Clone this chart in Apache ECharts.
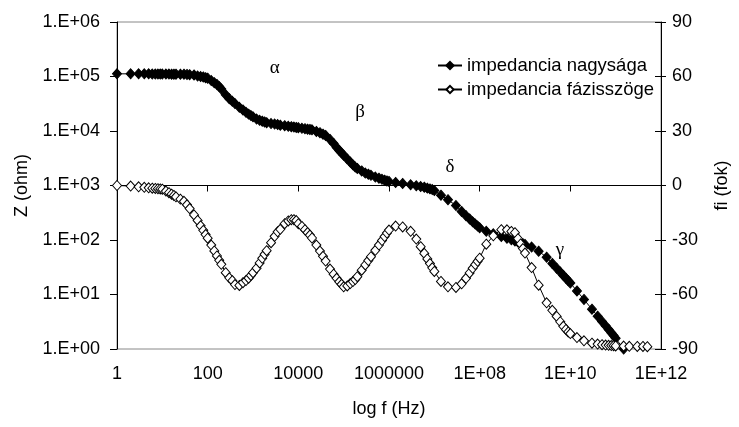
<!DOCTYPE html>
<html>
<head>
<meta charset="utf-8">
<script src="https://cdn.jsdelivr.net/npm/echarts@6/dist/echarts.min.js"></script>
<style>
  html, body { margin: 0; padding: 0; background: #fff; }
  #chart { width: 739px; height: 427px; }
</style>
</head>
<body>
<div id="chart"></div>
<script>
// frekvencia (Hz)
var freq = [
  1, 2, 3, 4, 5, 6, 7, 8, 9,
  10, 12, 14, 16, 18, 20, 25, 30, 35, 40, 50, 60, 70, 80, 90,
  100, 120, 140, 160, 180, 200, 250, 300, 350, 400, 500, 600, 700, 800, 900,
  1e3, 1.2e3, 1.4e3, 1.6e3, 1.8e3, 2e3, 2.5e3, 3e3, 3.5e3, 4e3, 5e3, 6e3, 7e3, 8e3, 9e3,
  1e4, 1.2e4, 1.4e4, 1.6e4, 1.8e4, 2e4, 2.5e4, 3e4, 3.5e4, 4e4, 5e4, 6e4, 7e4, 8e4, 9e4,
  1e5, 1.2e5, 1.4e5, 1.6e5, 1.8e5, 2e5, 2.5e5, 3e5, 3.5e5, 4e5, 5e5, 6e5, 7e5, 8e5, 9e5,
  1e6, 1.4e6, 2e6, 3e6, 4e6, 5e6, 6e6, 7e6, 8e6, 9e6,
  1e7, 1.4e7, 2e7, 3e7, 4e7, 5e7, 6e7, 7e7, 8e7, 9e7,
  1e8, 1.4e8, 2e8, 3e8, 4e8, 5e8, 6e8, 7e8, 8e8, 9e8,
  1e9, 1.4e9, 2e9, 3e9, 4e9, 5e9, 6e9, 7e9, 8e9, 9e9,
  1e10, 1.4e10, 2e10, 3e10, 4e10, 5e10, 6e10, 7e10, 8e10, 9e10,
  1e11, 1.5e11, 2e11, 3e11, 4e11, 5e11
];
// impedancia nagysága (ohm)
var zOhm = [
  112000, 112000, 112000, 112000, 112000, 111000, 111000, 111000, 111000,
  111000, 111000, 111000, 110000, 110000, 110000, 110000, 110000, 109000, 108000, 107000, 102000, 100000, 98000, 95000,
  93000, 84100, 77100, 71600, 65200, 58900, 46100, 39200, 35000, 31800, 27200, 24300, 22000, 20400, 19200,
  18200, 16600, 15700, 15100, 14700, 14200, 13700, 13400, 13100, 12800, 12500, 12200, 12000, 11800, 11600,
  11500, 11200, 11000, 10800, 10700, 10500, 9800, 9300, 8750, 8300, 7000, 5900, 5000, 4400, 3950,
  3590, 3070, 2690, 2390, 2180, 2060, 1850, 1690, 1610, 1540, 1430, 1360, 1300, 1250, 1210,
  1190, 1140, 1090, 1030, 989, 957, 929, 895, 867, 843,
  809, 664, 549, 428, 334, 280, 243, 216, 196, 180,
  167, 144, 130, 116, 108, 101, 96, 92, 88.7, 85.6,
  82.7, 74.3, 62.2, 48.3, 37.2, 30.4, 25.8, 22.4, 19.9, 17.9,
  16.2, 11.6, 8.1, 5.37, 4.01, 3.2, 2.66, 2.28, 1.99, 1.76,
  1.57, 1.0, null, null, null, null
];
// impedancia fázisszöge (fok)
var phase = [
  0, -0.3, -0.7, -1.0, -1.25, -1.45, -1.6, -1.75, -1.9,
  -2, -3.05, -3.95, -4.8, -5.5, -6.2, -7.5, -8.7, -10.6, -12.7, -16.2, -19.2, -22.2, -24.7, -27,
  -29, -32.8, -36, -38.8, -41.2, -43.4, -48, -50.8, -52.4, -54.5, -55, -53.5, -52.3, -51, -49.5,
  -48, -45.5, -42.6, -40.1, -37.9, -35.9, -31.5, -28, -25.5, -24.1, -21, -19.5, -18.8, -18.8, -19.3,
  -21, -22.5, -24.3, -25.9, -27.3, -28.9, -32.8, -36.1, -39, -41.6, -46, -48.8, -51.1, -53, -54.4,
  -55.8, -55.3, -54, -52.9, -51.8, -50.2, -46.6, -43.7, -41.3, -39.2, -35.7, -32.8, -30.3, -28.1, -26.2,
  -24.5, -22.3, -22.8, -25.2, -29.5, -33.7, -37.4, -40.4, -43, -45.3,
  -47.3, -52.8, -55.8, -56.1, -54.1, -51.1, -48.1, -45.6, -43.5, -41.7,
  -40, -32.3, -27.7, -24.3, -24.4, -25.3, -26, -29.3, -32.2, -34.7,
  -37.2, -45.2, -54.9, -64.6, -68.7, -72.1, -75, -77.5, -79.2, -80.6,
  -81.5, -83.7, -85.5, -86.8, -87.3, -87.6, -87.8, -88, -88.1, -88.2,
  -88.3, -88.4, -88.5, -88.6, -88.6, -88.7
];
var seriesNames = ['impedancia nagysága', 'impedancia fázisszöge'];
// görög betűk: [betű, f, Z]
var greek = [
  ['α', 3000, 144000],
  ['β', 230000, 22000],
  ['δ', 2.2e7, 2200],
  ['γ', 5.9e9, 66]
];

var font = 'Liberation Sans, Arial, sans-serif';
var myChart = echarts.init(document.getElementById('chart'));

function pairs(ys) {
  var out = [];
  for (var i = 0; i < freq.length; i++) {
    out.push([freq[i], ys[i]]);
  }
  return out;
}

var option = {
  animation: false,
  backgroundColor: '#fff',
  grid: {
    left: 117, right: 67, top: 22, bottom: 78,
    show: true, borderColor: '#888', borderWidth: 1
  },
  legend: {
    orient: 'vertical',
    left: 432, top: 51,
    itemWidth: 24, itemHeight: 9, itemGap: 5,
    data: seriesNames,
    textStyle: { fontFamily: font, fontSize: 18.5, color: '#000', lineHeight: 18 }
  },
  xAxis: {
    type: 'log', logBase: 100, min: 1, max: 1e12, splitNumber: 6,
    name: 'log f (Hz)', nameLocation: 'middle', nameGap: 51,
    nameTextStyle: { fontFamily: font, fontSize: 18, color: '#000' },
    axisLine: { lineStyle: { color: '#000', width: 1 } },
    axisTick: { length: 6, lineStyle: { color: '#000' } },
    splitLine: { show: false },
    axisLabel: {
      fontFamily: font, fontSize: 18, color: '#000', margin: 16,
      formatter: function (v) {
        var e = Math.round(Math.log10(v));
        if (e <= 6) return String(Math.pow(10, e));
        return '1E+' + (e < 10 ? '0' : '') + e;
      }
    }
  },
  yAxis: [
    {
      type: 'log', logBase: 10, min: 1, max: 1e6, splitNumber: 6,
      name: 'Z (ohm)', nameLocation: 'middle', nameGap: 86, nameRotate: 90,
      nameTextStyle: { fontFamily: font, fontSize: 18, color: '#000' },
      axisLine: { show: true, lineStyle: { color: '#000', width: 1 } },
      axisTick: { show: true, length: 7, lineStyle: { color: '#000' } },
      splitLine: { show: false },
      axisLabel: {
        fontFamily: font, fontSize: 18, color: '#000', margin: 17,
        formatter: function (v) {
          var e = Math.round(Math.log10(v));
          return '1.E+' + (e < 10 ? '0' : '') + e;
        }
      }
    },
    {
      type: 'value', min: -90, max: 90, interval: 30, position: 'right',
      name: 'fi (fok)', nameLocation: 'middle', nameGap: 52, nameRotate: 90,
      nameTextStyle: { fontFamily: font, fontSize: 18, color: '#000' },
      axisLine: { show: true, lineStyle: { color: '#000', width: 1 } },
      axisTick: { show: true, length: 5, lineStyle: { color: '#000' } },
      splitLine: { show: false },
      axisLabel: { fontFamily: font, fontSize: 18, color: '#000', margin: 11 }
    },
    {
      // belső osztásjelek a jobb tengelyen (kereszt)
      type: 'value', min: -90, max: 90, interval: 30, position: 'right',
      axisLine: { show: false },
      axisTick: { show: true, inside: true, length: 6, lineStyle: { color: '#000' } },
      axisLabel: { show: false },
      splitLine: { show: false }
    }
  ],
  series: [
    {
      name: seriesNames[0],
      type: 'line',
      yAxisIndex: 0,
      data: pairs(zOhm),
      symbol: 'diamond',
      symbolSize: [9, 10],
      showAllSymbol: true,
      lineStyle: { color: '#000', width: 1 },
      itemStyle: { color: '#000', borderColor: '#000', borderWidth: 1 },
      markPoint: {
        symbol: 'circle', symbolSize: 0,
        label: {
          show: true, position: 'inside',
          fontFamily: 'Liberation Serif, DejaVu Serif, serif', fontSize: 19, color: '#000',
          formatter: function (p) { return p.name; }
        },
        data: greek.map(function (g) { return { name: g[0], coord: [g[1], g[2]] }; })
      }
    },
    {
      name: seriesNames[1],
      type: 'line',
      yAxisIndex: 1,
      data: pairs(phase),
      symbol: 'diamond',
      symbolSize: [9, 10],
      showAllSymbol: true,
      lineStyle: { color: '#000', width: 1 },
      itemStyle: { color: '#fff', borderColor: '#000', borderWidth: 1 }
    }
  ]
};
myChart.setOption(option, true);
</script>
</body>
</html>
